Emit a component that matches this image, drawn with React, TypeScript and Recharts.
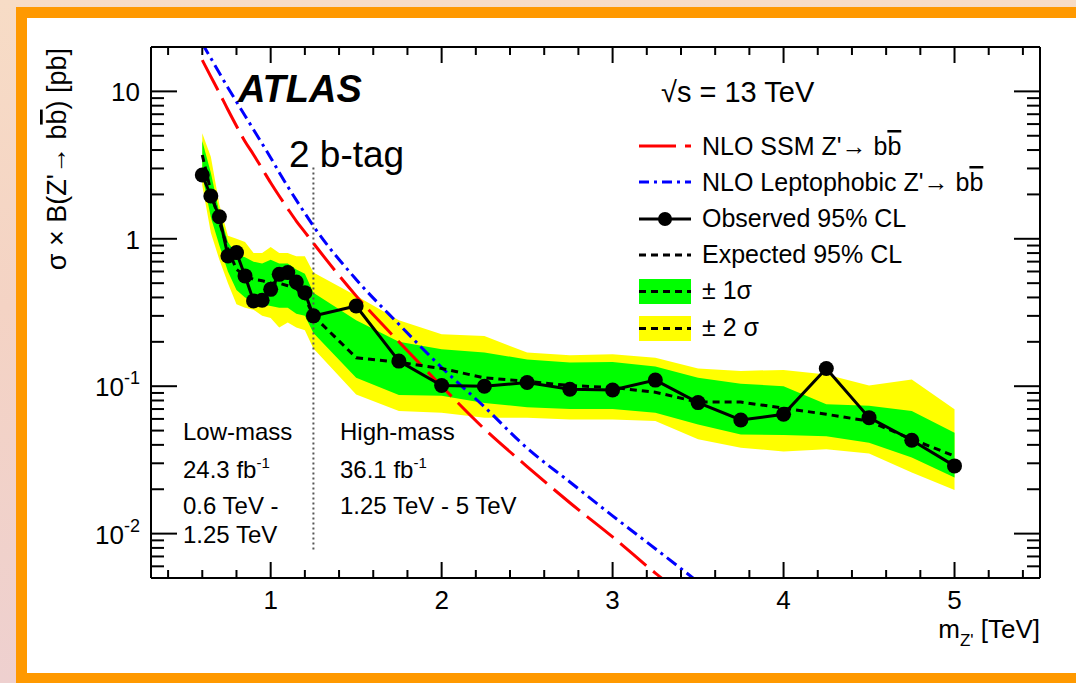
import React from 'react';
import { ComposedChart, Line, Area, XAxis, YAxis, ReferenceLine } from 'recharts';

const FONT = '"Liberation Sans", Arial, Helvetica, sans-serif';

// Z' mass points [TeV]
const massPoints = [0.6, 0.65, 0.7, 0.75, 0.8, 0.85, 0.9, 0.95, 1.0, 1.05, 1.1, 1.15, 1.2, 1.25, 1.5, 1.75, 2.0, 2.25, 2.5, 2.75, 3.0, 3.25, 3.5, 3.75, 4.0, 4.25, 4.5, 4.75, 5.0];
// Observed 95% CL limit [pb]
const observed = [2.71, 1.95, 1.41, 0.764, 0.806, 0.56, 0.379, 0.383, 0.454, 0.574, 0.59, 0.509, 0.431, 0.30, 0.35, 0.148, 0.101, 0.10, 0.106, 0.0953, 0.0942, 0.11, 0.0774, 0.059, 0.0645, 0.132, 0.0612, 0.043, 0.0288];
// Expected 95% CL limit [pb]
const expected = [3.7, 2.1, 1.3, 0.85, 0.62, 0.56, 0.53, 0.52, 0.50, 0.50, 0.48, 0.46, 0.40, 0.30, 0.156, 0.145, 0.132, 0.114, 0.108, 0.101, 0.098, 0.091, 0.078, 0.078, 0.071, 0.0645, 0.058, 0.0437, 0.0336];
// +-1 sigma band
const oneSigmaLow = [2.7, 1.4, 0.9, 0.6, 0.45, 0.4, 0.38, 0.36, 0.35, 0.34, 0.34, 0.31, 0.30, 0.23, 0.114, 0.087, 0.086, 0.077, 0.072, 0.070, 0.070, 0.066, 0.055, 0.047, 0.0467, 0.0458, 0.0414, 0.0328, 0.024];
const oneSigmaHigh = [4.6, 2.8, 1.5, 0.95, 0.78, 0.75, 0.70, 0.68, 0.72, 0.68, 0.68, 0.62, 0.58, 0.43, 0.28, 0.20, 0.178, 0.169, 0.152, 0.145, 0.146, 0.136, 0.114, 0.104, 0.10, 0.0754, 0.0737, 0.068, 0.0484];
// +-2 sigma band
const twoSigmaLow = [2.3, 1.1, 0.72, 0.5, 0.36, 0.34, 0.33, 0.30, 0.29, 0.25, 0.27, 0.25, 0.24, 0.18, 0.088, 0.068, 0.066, 0.061, 0.061, 0.0595, 0.0595, 0.058, 0.0436, 0.0383, 0.036, 0.0373, 0.035, 0.026, 0.0198];
const twoSigmaHigh = [5.2, 3.6, 1.7, 1.05, 1.0, 0.95, 0.80, 0.80, 0.88, 0.80, 0.80, 0.76, 0.76, 0.59, 0.41, 0.28, 0.225, 0.219, 0.169, 0.162, 0.165, 0.156, 0.132, 0.127, 0.129, 0.12, 0.101, 0.111, 0.0697];
// NLO theory cross sections [pb]
const ssmTheory = [16.3, 12.6, 9.77, 7.50, 5.82, 4.57, 3.72, 2.99, 2.40, 1.95, 1.60, 1.32, 1.11, 0.933, 0.41, 0.20, 0.10, 0.0513, 0.0285, 0.0162, 0.0095, 0.0054, 0.0032, null, null, null, null, null, null];
const leptoTheory = [21.1, 16.8, 13.3, 10.6, 8.5, 6.84, 5.50, 4.42, 3.55, 2.82, 2.26, 1.83, 1.49, 1.22, 0.53, 0.263, 0.134, 0.0724, 0.038, 0.0224, 0.0132, 0.0079, 0.0047, null, null, null, null, null, null];

const xMajorTicks = [1, 2, 3, 4, 5];
const xMinorTicks = [0.4, 0.6, 0.8, 1.2, 1.4, 1.6, 1.8, 2.2, 2.4, 2.6, 2.8, 3.2, 3.4, 3.6, 3.8, 4.2, 4.4, 4.6, 4.8, 5.2, 5.4];
const yMajorTicks = [0.01, 0.1, 1, 10];
const yMinorTicks = [0.006, 0.007, 0.008, 0.009, 0.02, 0.03, 0.04, 0.05, 0.06, 0.07, 0.08, 0.09, 0.2, 0.3, 0.4, 0.5, 0.6, 0.7, 0.8, 0.9, 2, 3, 4, 5, 6, 7, 8, 9];
const yLabelBase = ['10', '10', '1', '10'];
const yLabelExp = ['-2', '-1', '', ''];

const data = massPoints.map((m, i) => ({
  mass: m,
  obs: observed[i],
  exp: expected[i],
  one: [oneSigmaLow[i], oneSigmaHigh[i]],
  two: [twoSigmaLow[i], twoSigmaHigh[i]],
  ssm: ssmTheory[i],
  lepto: leptoTheory[i],
}));

const isMajorX = (v: number) => xMajorTicks.some((t) => Math.abs(t - v) < 1e-9);
const majorYIndex = (v: number) => yMajorTicks.findIndex((t) => Math.abs(t - v) < 1e-12);

const BottomTick = (props: any) => {
  const { x, y, payload } = props;
  const major = isMajorX(payload.value);
  return (
    <g>
      <line x1={x} x2={x} y1={y} y2={y - (major ? 16 : 8)} stroke="#000" strokeWidth={2} />
      {major && (
        <text x={x} y={y + 31} textAnchor="middle" fontSize={26} fontFamily={FONT} fill="#000">
          {payload.value}
        </text>
      )}
    </g>
  );
};

const TopTick = (props: any) => {
  const { x, y, payload } = props;
  const major = isMajorX(payload.value);
  return <line x1={x} x2={x} y1={y} y2={y + (major ? 16 : 8)} stroke="#000" strokeWidth={2} />;
};

const LeftTick = (props: any) => {
  const { x, y, payload } = props;
  const idx = majorYIndex(payload.value);
  const major = idx >= 0;
  return (
    <g>
      <line x1={x} x2={x + (major ? 26 : 13)} y1={y} y2={y} stroke="#000" strokeWidth={2} />
      {major && (
        <text x={x - 11} y={y + 10} textAnchor="end" fontSize={26} fontFamily={FONT} fill="#000">
          {yLabelBase[idx]}
          {yLabelExp[idx] && (
            <tspan dy={-12} fontSize={18}>
              {yLabelExp[idx]}
            </tspan>
          )}
        </text>
      )}
    </g>
  );
};

const RightTick = (props: any) => {
  const { x, y, payload } = props;
  const major = majorYIndex(payload.value) >= 0;
  return <line x1={x} x2={x - (major ? 26 : 13)} y1={y} y2={y} stroke="#000" strokeWidth={2} />;
};

const axisLine = { stroke: '#000', strokeWidth: 2 };

const Overlay = () => (
  <svg width={1076} height={683} style={{ position: 'absolute', left: 0, top: 0, pointerEvents: 'none' }} fontFamily={FONT}>
    {/* Y title */}
    <text transform="translate(66,48) rotate(-90)" textAnchor="end" fontSize={27} fill="#000">
      σ × B(Z'→ b<tspan textDecoration="overline">b</tspan>) [pb]
    </text>
    {/* X title */}
    <text x={1040} y={638} textAnchor="end" fontSize={26} fill="#000">
      m<tspan dy={8} fontSize={17}>Z'</tspan>
      <tspan dy={-8}> [TeV]</tspan>
    </text>
    <text x={238} y={102} fontSize={38} fontWeight="bold" fontStyle="italic" fill="#000">ATLAS</text>
    <text x={289} y={167} fontSize={37} fill="#000">2 b-tag</text>
    <text x={661} y={102} fontSize={29} fill="#000">√s = 13 TeV</text>

    {/* Legend */}
    <line x1={639} x2={691} y1={146} y2={146} stroke="#ff0000" strokeWidth={3} strokeDasharray="37 9" />
    <text x={702} y={155} fontSize={25} fill="#000">
      NLO SSM Z'→ b<tspan textDecoration="overline">b</tspan>
    </text>
    <line x1={639} x2={691} y1={182} y2={182} stroke="#0000ff" strokeWidth={3} strokeDasharray="10 5 3 5" />
    <text x={702} y={191} fontSize={25} fill="#000">
      NLO Leptophobic Z'→ b<tspan textDecoration="overline">b</tspan>
    </text>
    <line x1={639} x2={691} y1={219} y2={219} stroke="#000" strokeWidth={3} />
    <circle cx={665} cy={219} r={7} fill="#000" />
    <text x={702} y={227} fontSize={25} fill="#000">Observed 95% CL</text>
    <line x1={639} x2={691} y1={255} y2={255} stroke="#000" strokeWidth={3} strokeDasharray="7 5" />
    <text x={702} y={263} fontSize={25} fill="#000">Expected 95% CL</text>
    <rect x={639} y={279} width={52} height={25} fill="#00ff00" />
    <line x1={639} x2={691} y1={291.5} y2={291.5} stroke="#000" strokeWidth={3} strokeDasharray="7 5" />
    <text x={702} y={299} fontSize={25} fill="#000">± 1σ</text>
    <rect x={639} y={316} width={52} height={25} fill="#ffff00" />
    <line x1={639} x2={691} y1={328.5} y2={328.5} stroke="#000" strokeWidth={3} strokeDasharray="7 5" />
    <text x={702} y={336} fontSize={25} fill="#000">± 2 σ</text>

    {/* Region labels */}
    <text x={183} y={440} fontSize={24} fill="#000">Low-mass</text>
    <text x={183} y={478} fontSize={24} fill="#000">
      24.3 fb<tspan dy={-10} fontSize={15}>-1</tspan>
    </text>
    <text x={183} y={514} fontSize={24} fill="#000">0.6 TeV -</text>
    <text x={183} y={543} fontSize={24} fill="#000">1.25 TeV</text>
    <text x={340} y={440} fontSize={24} fill="#000">High-mass</text>
    <text x={340} y={478} fontSize={24} fill="#000">
      36.1 fb<tspan dy={-10} fontSize={15}>-1</tspan>
    </text>
    <text x={340} y={514} fontSize={24} fill="#000">1.25 TeV - 5 TeV</text>
  </svg>
);

export default function App() {
  return (
    <div
      style={{
        position: 'absolute',
        left: 0,
        top: 0,
        width: 1076,
        height: 683,
        overflow: 'hidden',
        background: 'linear-gradient(180deg, #f7dcc6 0%, #f4d3c4 45%, #eed0cf 100%)',
        fontFamily: FONT,
      }}
    >
      <div style={{ position: 'absolute', left: 16, top: 7, width: 1060, height: 676, background: '#ff9900' }} />
      <div style={{ position: 'absolute', left: 27, top: 18, width: 1049, height: 655, background: '#ffffff' }} />
      <div style={{ position: 'absolute', left: 0, top: 0 }}>
        <ComposedChart width={1076} height={683} data={data} margin={{ top: 46, right: 35, bottom: 45, left: 21 }}>
          <XAxis
            dataKey="mass"
            type="number"
            domain={[0.3, 5.5]}
            allowDataOverflow
            ticks={[...xMajorTicks, ...xMinorTicks]}
            interval={0}
            tickSize={0}
            tickMargin={0}
            tickLine={false}
            axisLine={axisLine}
            height={60}
            tick={BottomTick}
          />
          <XAxis
            xAxisId="top"
            orientation="top"
            dataKey="mass"
            type="number"
            domain={[0.3, 5.5]}
            allowDataOverflow
            ticks={[...xMajorTicks, ...xMinorTicks]}
            interval={0}
            tickSize={0}
            tickMargin={0}
            tickLine={false}
            axisLine={axisLine}
            height={1}
            tick={TopTick}
          />
          <YAxis
            type="number"
            scale="log"
            domain={[0.005, 20]}
            allowDataOverflow
            ticks={[...yMajorTicks, ...yMinorTicks]}
            interval={0}
            tickSize={0}
            tickMargin={0}
            tickLine={false}
            axisLine={axisLine}
            width={130}
            tick={LeftTick}
          />
          <YAxis
            yAxisId="right"
            orientation="right"
            type="number"
            scale="log"
            domain={[0.005, 20]}
            allowDataOverflow
            ticks={[...yMajorTicks, ...yMinorTicks]}
            interval={0}
            tickSize={0}
            tickMargin={0}
            tickLine={false}
            axisLine={axisLine}
            width={1}
            tick={RightTick}
          />
          <Area dataKey="two" type="linear" stroke="none" fill="#ffff00" fillOpacity={1} isAnimationActive={false} />
          <Area dataKey="one" type="linear" stroke="none" fill="#00ff00" fillOpacity={1} isAnimationActive={false} />
          <ReferenceLine
            segment={[{ x: 1.25, y: 3.05 }, { x: 1.25, y: 0.0078 }]}
            stroke="#555"
            strokeWidth={2}
            strokeDasharray="2 3"
          />
          <Line dataKey="ssm" type="monotone" stroke="#ff0000" strokeWidth={3} strokeDasharray="34 9" dot={false} isAnimationActive={false} />
          <Line dataKey="lepto" type="monotone" stroke="#0000ff" strokeWidth={3} strokeDasharray="12 5 3 5" dot={false} isAnimationActive={false} />
          <Line dataKey="exp" type="linear" stroke="#000" strokeWidth={3} strokeDasharray="7 5" dot={false} isAnimationActive={false} />
          <Line
            dataKey="obs"
            type="linear"
            stroke="#000"
            strokeWidth={3}
            dot={{ r: 7.5, fill: '#000', stroke: '#000', strokeWidth: 0 }}
            isAnimationActive={false}
          />
          <Line xAxisId="top" yAxisId="right" dataKey="obs" stroke="none" dot={false} legendType="none" isAnimationActive={false} />
        </ComposedChart>
      </div>
      <Overlay />
    </div>
  );
}
